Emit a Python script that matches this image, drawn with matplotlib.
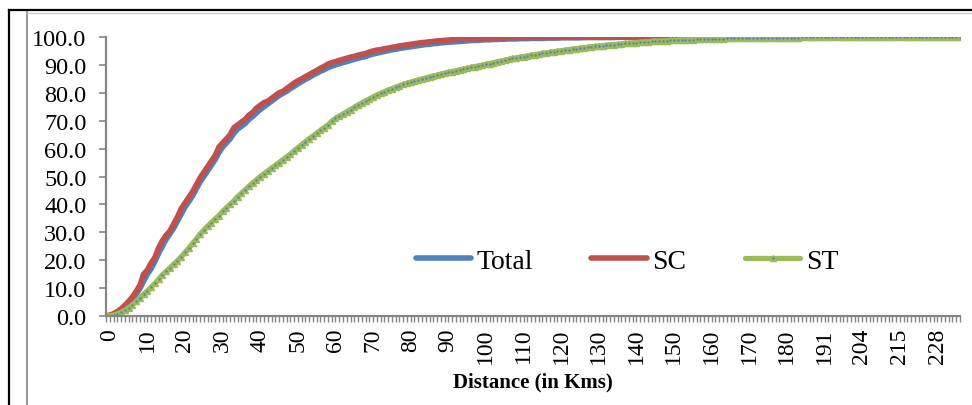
import matplotlib
matplotlib.use("Agg")
import matplotlib.pyplot as plt
import matplotlib.transforms as mtransforms
from matplotlib.lines import Line2D

plt.rcParams['font.family'] = ['Liberation Serif', 'DejaVu Serif']

########

# category labels (distance in km); a few distances are missing after 180
distances = list(range(181)) + [
    181, 182, 183, 184, 185, 186, 188, 189, 190, 191,
    192, 193, 195, 196, 197, 199, 200, 201, 203, 204,
    205, 206, 207, 208, 210, 211, 212, 213, 214, 215,
    216, 217, 219, 220, 221, 223, 224, 225, 227, 228,
    229, 231, 232, 234, 236, 238, 240]

total = [
    0.0, 0.2, 0.6, 1.2, 2.0, 3.0, 4.4, 6.0, 7.8, 9.8,
    12.5, 15.0, 17.0, 19.5, 22.5, 25.0, 27.5, 29.5, 31.5, 34.0,
    36.5, 39.0, 41.0, 43.0, 45.5, 48.0, 50.0, 52.0, 54.0, 56.0,
    58.5, 60.5, 62.0, 63.5, 65.5, 67.0, 68.0, 69.0, 70.5, 71.5,
    72.8, 74.0, 75.0, 76.0, 77.0, 78.0, 79.0, 79.8, 80.5, 81.5,
    82.3, 83.2, 84.0, 84.8, 85.5, 86.3, 87.0, 87.7, 88.3, 89.0,
    89.5, 90.0, 90.4, 90.8, 91.2, 91.6, 92.0, 92.4, 92.7, 93.0,
    93.5, 93.9, 94.2, 94.5, 94.8, 95.1, 95.4, 95.6, 95.9, 96.1,
    96.3, 96.5, 96.7, 96.9, 97.1, 97.3, 97.4, 97.6, 97.7, 97.9,
    98.0, 98.1, 98.2, 98.3, 98.4, 98.5, 98.6, 98.7, 98.8, 98.8,
    98.9, 99.0, 99.0, 99.1, 99.1, 99.2, 99.2, 99.3, 99.3, 99.3,
    99.4, 99.4, 99.4, 99.5, 99.5, 99.5, 99.5, 99.6, 99.6, 99.6,
    99.6, 99.7, 99.7, 99.7, 99.7, 99.7, 99.7, 99.8, 99.8, 99.8,
    99.8, 99.8, 99.8, 99.8, 99.8, 99.8, 99.9, 99.9, 99.9, 99.9,
    99.9, 99.9, 99.9, 99.9, 99.9, 99.9, 99.9, 99.9, 99.9, 99.9,
    99.9, 99.9, 99.9, 99.9, 99.9, 100.0, 100.0, 100.0, 100.0, 100.0,
    100.0, 100.0, 100.0, 100.0, 100.0, 100.0, 100.0, 100.0, 100.0, 100.0,
    100.0, 100.0, 100.0, 100.0, 100.0, 100.0, 100.0, 100.0, 100.0, 100.0,
    100.0, 100.0, 100.0, 100.0, 100.0, 100.0, 100.0, 100.0, 100.0, 100.0,
    100.0, 100.0, 100.0, 100.0, 100.0, 100.0, 100.0, 100.0, 100.0, 100.0,
    100.0, 100.0, 100.0, 100.0, 100.0, 100.0, 100.0, 100.0, 100.0, 100.0,
    100.0, 100.0, 100.0, 100.0, 100.0, 100.0, 100.0, 100.0, 100.0, 100.0,
    100.0, 100.0, 100.0, 100.0, 100.0, 100.0, 100.0, 100.0]

sc = [
    0.0, 0.3, 0.8, 1.6, 2.6, 3.8, 5.2, 6.8, 8.8, 11.0,
    15.0, 16.5, 19.0, 21.0, 24.5, 27.0, 29.0, 30.5, 33.0, 35.5,
    38.5, 40.5, 42.5, 44.5, 47.0, 49.5, 51.5, 53.5, 55.5, 57.5,
    60.5, 62.0, 63.5, 65.0, 67.5, 68.5, 69.5, 70.5, 72.0, 73.0,
    74.5, 75.5, 76.5, 77.0, 78.0, 79.0, 80.0, 80.5, 81.5, 82.5,
    83.5, 84.3, 85.0, 85.8, 86.5, 87.3, 88.0, 88.8, 89.5, 90.3,
    90.8, 91.2, 91.6, 92.0, 92.4, 92.8, 93.1, 93.5, 93.8, 94.1,
    94.6, 95.0, 95.3, 95.5, 95.8, 96.0, 96.3, 96.5, 96.8, 97.0,
    97.2, 97.4, 97.6, 97.8, 98.0, 98.1, 98.3, 98.4, 98.6, 98.7,
    98.8, 98.9, 99.0, 99.1, 99.2, 99.3, 99.3, 99.4, 99.4, 99.5,
    99.5, 99.6, 99.6, 99.6, 99.7, 99.7, 99.7, 99.8, 99.8, 99.8,
    99.8, 99.8, 99.9, 99.9, 99.9, 99.9, 99.9, 99.9, 99.9, 99.9,
    99.9, 99.9, 100.0, 100.0, 100.0, 100.0, 100.0, 100.0, 100.0, 100.0,
    100.0, 100.0, 100.0, 100.0, 100.0, 100.0, 100.0, 100.0, 100.0, 100.0,
    100.0, 100.0, 100.0, 100.0, 100.0, 100.0, 100.0, 100.0, 100.0, 100.0,
    100.0, 100.0, 100.0, 100.0, 100.0, 100.0, 100.0, 100.0, 100.0, 100.0,
    100.0, 100.0, 100.0, 100.0, 100.0, 100.0, 100.0, 100.0, 100.0, 100.0,
    100.0, 100.0, 100.0, 100.0, 100.0, 100.0, 100.0, 100.0, 100.0, 100.0,
    100.0, 100.0, 100.0, 100.0, 100.0, 100.0, 100.0, 100.0, 100.0, 100.0,
    100.0, 100.0, 100.0, 100.0, 100.0, 100.0, 100.0, 100.0, 100.0, 100.0,
    100.0, 100.0, 100.0, 100.0, 100.0, 100.0, 100.0, 100.0, 100.0, 100.0,
    100.0, 100.0, 100.0, 100.0, 100.0, 100.0, 100.0, 100.0, 100.0, 100.0,
    100.0, 100.0, 100.0, 100.0, 100.0, 100.0, 100.0, 100.0]

st = [
    0.0, 0.1, 0.3, 0.7, 1.3, 2.0, 3.0, 4.0, 5.2, 6.5,
    7.8, 9.0, 10.3, 11.7, 13.2, 14.8, 16.0, 17.3, 18.6, 19.8,
    21.2, 22.8, 24.3, 26.0, 27.6, 29.4, 30.8, 32.2, 33.5, 34.8,
    36.0, 37.5, 38.8, 40.0, 41.3, 42.8, 44.0, 45.2, 46.5, 47.7,
    48.8, 50.0, 51.0, 52.0, 53.0, 54.0, 55.0, 56.0, 57.0, 58.0,
    59.2, 60.3, 61.4, 62.5, 63.5, 64.5, 65.5, 66.5, 67.5, 68.5,
    69.8, 70.8, 71.6, 72.4, 73.2, 74.0, 74.8, 75.6, 76.4, 77.1,
    77.8, 78.5, 79.2, 79.8, 80.4, 81.0, 81.5, 82.0, 82.5, 83.0,
    83.4, 83.8, 84.2, 84.6, 85.0, 85.3, 85.7, 86.0, 86.3, 86.7,
    87.0, 87.3, 87.6, 87.9, 88.2, 88.5, 88.8, 89.1, 89.4, 89.6,
    89.9, 90.2, 90.5, 90.8, 91.1, 91.4, 91.7, 92.0, 92.3, 92.5,
    92.8, 93.0, 93.2, 93.5, 93.7, 93.9, 94.1, 94.3, 94.5, 94.7,
    94.9, 95.1, 95.3, 95.5, 95.7, 95.8, 96.0, 96.2, 96.3, 96.5,
    96.6, 96.8, 96.9, 97.0, 97.2, 97.3, 97.4, 97.5, 97.7, 97.8,
    97.9, 98.0, 98.1, 98.2, 98.3, 98.4, 98.5, 98.5, 98.6, 98.7,
    98.8, 98.8, 98.9, 99.0, 99.0, 99.1, 99.1, 99.2, 99.2, 99.3,
    99.3, 99.3, 99.4, 99.4, 99.4, 99.5, 99.5, 99.5, 99.5, 99.6,
    99.6, 99.6, 99.6, 99.7, 99.7, 99.7, 99.7, 99.7, 99.8, 99.8,
    99.8, 99.8, 99.8, 99.8, 99.8, 99.9, 99.9, 99.9, 99.9, 99.9,
    99.9, 99.9, 99.9, 99.9, 99.9, 99.9, 99.9, 99.9, 99.9, 99.9,
    100.0, 100.0, 100.0, 100.0, 100.0, 100.0, 100.0, 100.0, 100.0, 100.0,
    100.0, 100.0, 100.0, 100.0, 100.0, 100.0, 100.0, 100.0, 100.0, 100.0,
    100.0, 100.0, 100.0, 100.0, 100.0, 100.0, 100.0, 100.0]

########

c_total = "#4F81BD"
c_sc = "#C0504D"
c_st = "#9BBB59"
c_axis = "#868686"

fig = plt.figure(figsize = (9.72, 4.06), dpi = 100)
ax = fig.add_axes([106 / 972, 89 / 406, 854 / 972, 279 / 406])

idx = list(range(len(distances)))

l1, = ax.plot(idx, total, color = c_total, lw = 4.0, solid_capstyle = "round", label = "Total")
l2, = ax.plot(idx, sc, color = c_sc, lw = 4.0, solid_capstyle = "round", label = "SC")
l3, = ax.plot(idx, st, color = c_st, lw = 3.8, marker = "^", ms = 5,
              mfc = c_st, mec = c_st, solid_capstyle = "round")
l3d, = ax.plot(idx, st, ls = "none", marker = ".", ms = 1.3, color = c_total)

ax.set_xlim(0, len(distances) - 1)
ax.set_ylim(0, 100)

# axes styling
for s in ["top", "right"]:
    ax.spines[s].set_visible(False)
for s in ["left", "bottom"]:
    ax.spines[s].set_color(c_axis)
    ax.spines[s].set_linewidth(1.6)

ax.set_yticks(range(0, 101, 10))
ax.set_yticklabels([f"{v:.1f}" for v in range(0, 101, 10)])
ax.tick_params(axis = "y", direction = "out", length = 5, width = 1.2, color = c_axis,
               labelsize = 17.5, pad = 9)

major = idx[::10]
ax.set_xticks(major)
ax.set_xticklabels([str(distances[i]) for i in major], rotation = 90)
ax.set_xticks(idx, minor = True)
ax.tick_params(axis = "x", which = "both", direction = "out", length = 4.5, width = 1.0,
               color = c_axis, labelsize = 17, pad = 4)

# nudge the rotated labels a little to the right, like the original
shift = mtransforms.ScaledTranslation(3.5 / 100, 0, fig.dpi_scale_trans)
for lab in ax.get_xticklabels():
    lab.set_transform(lab.get_transform() + shift)

ax.set_xlabel("Distance (in Kms)", fontsize = 15, fontweight = "bold", labelpad = 6)

ax.legend([l1, l2, (l3, l3d)], ["Total", "SC", "ST"], loc = "center",
          bbox_to_anchor = (0.61, 0.197), ncol = 3, frameon = False, fontsize = 20,
          handlelength = 2.0, handletextpad = 0.2, columnspacing = 2.1, numpoints = 1)

# frame lines of the original screenshot
fig.add_artist(Line2D([9 / 972, 9 / 972], [0, 395 / 406], transform = fig.transFigure,
                      color = "black", lw = 1.6))
fig.add_artist(Line2D([9 / 972, 1], [395 / 406, 395 / 406], transform = fig.transFigure,
                      color = "black", lw = 1.6))
fig.add_artist(Line2D([27 / 972, 27 / 972], [0, 393 / 406], transform = fig.transFigure,
                      color = "#999999", lw = 1.5))
fig.add_artist(Line2D([27 / 972, 1], [392.5 / 406, 392.5 / 406], transform = fig.transFigure,
                      color = "#cccccc", lw = 1.0))

plt.savefig("out.png", dpi = 100)
